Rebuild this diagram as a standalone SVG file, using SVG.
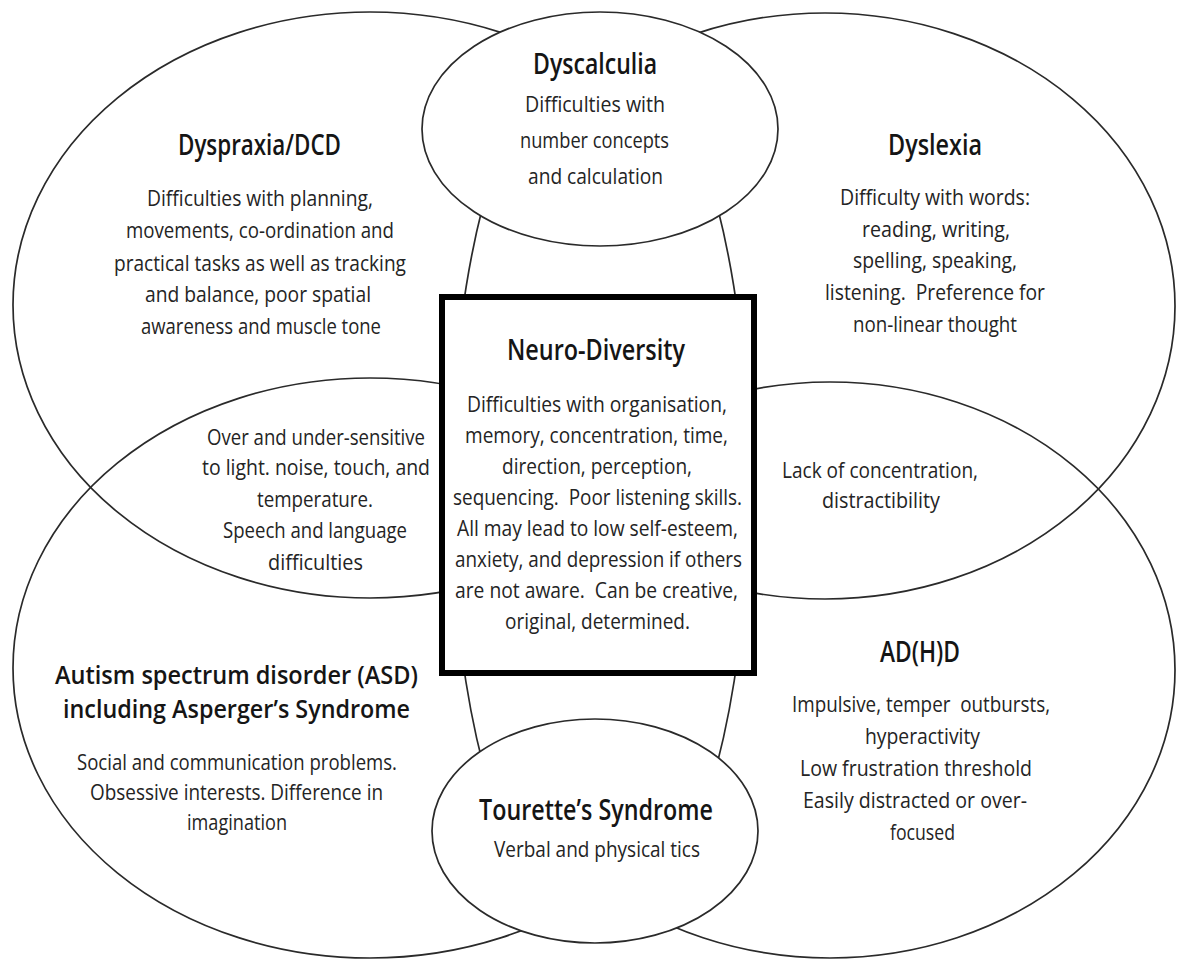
<svg xmlns="http://www.w3.org/2000/svg" width="1178" height="964" viewBox="0 0 1178 964">
<style>
.ln{fill:none;stroke:#2a2a2a;stroke-width:1.7}
.wf{fill:#fff;stroke:#2a2a2a;stroke-width:1.7}
.box{fill:#fff;stroke:#000;stroke-width:6}
text{font-family:"Open Sans","Noto Sans","DejaVu Sans",sans-serif;white-space:pre}
.t{font-size:28px;font-weight:600;fill:#151515}
.t2{font-size:25px;font-weight:600;fill:#151515}
.b{font-size:22px;fill:#242424}
</style>
<rect width="1178" height="964" fill="#fff"/>
<g id="node-dyspraxia">
<ellipse class="ln" cx="370" cy="305" rx="357" ry="293"/>
<text class="t" x="178" y="155" textLength="163" lengthAdjust="spacingAndGlyphs">Dyspraxia/DCD</text>
<text class="b" x="147" y="206" textLength="226" lengthAdjust="spacingAndGlyphs">Difficulties with planning,</text>
<text class="b" x="126" y="238" textLength="268" lengthAdjust="spacingAndGlyphs">movements, co-ordination and</text>
<text class="b" x="114" y="271" textLength="292" lengthAdjust="spacingAndGlyphs">practical tasks as well as tracking</text>
<text class="b" x="145" y="302" textLength="226" lengthAdjust="spacingAndGlyphs">and balance, poor spatial</text>
<text class="b" x="141" y="334" textLength="240" lengthAdjust="spacingAndGlyphs">awareness and muscle tone</text>
</g>
<g id="node-dyslexia">
<ellipse class="ln" cx="825" cy="306" rx="350" ry="293"/>
<text class="t" x="888" y="155" textLength="94" lengthAdjust="spacingAndGlyphs">Dyslexia</text>
<text class="b" x="840" y="205" textLength="190" lengthAdjust="spacingAndGlyphs">Difficulty with words:</text>
<text class="b" x="862" y="237" textLength="148" lengthAdjust="spacingAndGlyphs">reading, writing,</text>
<text class="b" x="853" y="268" textLength="164" lengthAdjust="spacingAndGlyphs">spelling, speaking,</text>
<text class="b" x="825" y="300" textLength="220" lengthAdjust="spacingAndGlyphs">listening.  Preference for</text>
<text class="b" x="853" y="332" textLength="164" lengthAdjust="spacingAndGlyphs">non-linear thought</text>
</g>
<g id="node-asd">
<ellipse class="ln" cx="370" cy="668" rx="357" ry="290"/>
<text class="t2" x="55" y="684" textLength="363" lengthAdjust="spacingAndGlyphs">Autism spectrum disorder (ASD)</text>
<text class="t2" x="63" y="718" textLength="347" lengthAdjust="spacingAndGlyphs">including Asperger’s Syndrome</text>
<text class="b" x="77" y="770" textLength="320" lengthAdjust="spacingAndGlyphs">Social and communication problems.</text>
<text class="b" x="90" y="800" textLength="293" lengthAdjust="spacingAndGlyphs">Obsessive interests. Difference in</text>
<text class="b" x="187" y="830" textLength="100" lengthAdjust="spacingAndGlyphs">imagination</text>
</g>
<g id="node-adhd">
<ellipse class="ln" cx="830" cy="670" rx="345" ry="288"/>
<text class="t" x="880" y="662" textLength="80" lengthAdjust="spacingAndGlyphs">AD(H)D</text>
<text class="b" x="792" y="712" textLength="258" lengthAdjust="spacingAndGlyphs">Impulsive, temper  outbursts,</text>
<text class="b" x="865" y="744" textLength="115" lengthAdjust="spacingAndGlyphs">hyperactivity</text>
<text class="b" x="800" y="776" textLength="232" lengthAdjust="spacingAndGlyphs">Low frustration threshold</text>
<text class="b" x="803" y="808" textLength="224" lengthAdjust="spacingAndGlyphs">Easily distracted or over-</text>
<text class="b" x="890" y="840" textLength="65" lengthAdjust="spacingAndGlyphs">focused</text>
</g>
<g id="overlap-dyspraxia-asd">
<text class="b" x="207" y="445" textLength="218" lengthAdjust="spacingAndGlyphs">Over and under-sensitive</text>
<text class="b" x="202" y="475" textLength="228" lengthAdjust="spacingAndGlyphs">to light. noise, touch, and</text>
<text class="b" x="257" y="507" textLength="116" lengthAdjust="spacingAndGlyphs">temperature.</text>
<text class="b" x="223" y="538" textLength="184" lengthAdjust="spacingAndGlyphs">Speech and language</text>
<text class="b" x="268" y="570" textLength="95" lengthAdjust="spacingAndGlyphs">difficulties</text>
</g>
<g id="overlap-dyslexia-adhd">
<text class="b" x="782" y="478" textLength="196" lengthAdjust="spacingAndGlyphs">Lack of concentration,</text>
<text class="b" x="822" y="508" textLength="118" lengthAdjust="spacingAndGlyphs">distractibility</text>
</g>
<g id="center-ellipse">
<ellipse class="wf" cx="600" cy="485" rx="149" ry="451"/>
</g>
<g id="node-dyscalculia">
<ellipse class="wf" cx="600" cy="129" rx="178" ry="117"/>
<text class="t" x="533" y="74" textLength="124" lengthAdjust="spacingAndGlyphs">Dyscalculia</text>
<text class="b" x="525" y="112" textLength="140" lengthAdjust="spacingAndGlyphs">Difficulties with</text>
<text class="b" x="520" y="148" textLength="149" lengthAdjust="spacingAndGlyphs">number concepts</text>
<text class="b" x="528" y="184" textLength="135" lengthAdjust="spacingAndGlyphs">and calculation</text>
</g>
<g id="node-tourettes">
<ellipse class="wf" cx="595" cy="831" rx="163" ry="112"/>
<text class="t" x="479" y="820" textLength="234" lengthAdjust="spacingAndGlyphs">Tourette’s Syndrome</text>
<text class="b" x="494" y="857" textLength="206" lengthAdjust="spacingAndGlyphs">Verbal and physical tics</text>
</g>
<g id="node-neurodiversity">
<rect class="box" x="442" y="297" width="312" height="376"/>
<text class="t" x="507" y="360" textLength="178" lengthAdjust="spacingAndGlyphs">Neuro-Diversity</text>
<text class="b" x="467" y="412" textLength="260" lengthAdjust="spacingAndGlyphs">Difficulties with organisation,</text>
<text class="b" x="465" y="443" textLength="263" lengthAdjust="spacingAndGlyphs">memory, concentration, time,</text>
<text class="b" x="502" y="474" textLength="190" lengthAdjust="spacingAndGlyphs">direction, perception,</text>
<text class="b" x="453" y="505" textLength="289" lengthAdjust="spacingAndGlyphs">sequencing.  Poor listening skills.</text>
<text class="b" x="457" y="536" textLength="281" lengthAdjust="spacingAndGlyphs">All may lead to low self-esteem,</text>
<text class="b" x="455" y="567" textLength="287" lengthAdjust="spacingAndGlyphs">anxiety, and depression if others</text>
<text class="b" x="455" y="598" textLength="283" lengthAdjust="spacingAndGlyphs">are not aware.  Can be creative,</text>
<text class="b" x="505" y="629" textLength="185" lengthAdjust="spacingAndGlyphs">original, determined.</text>
</g>
</svg>
